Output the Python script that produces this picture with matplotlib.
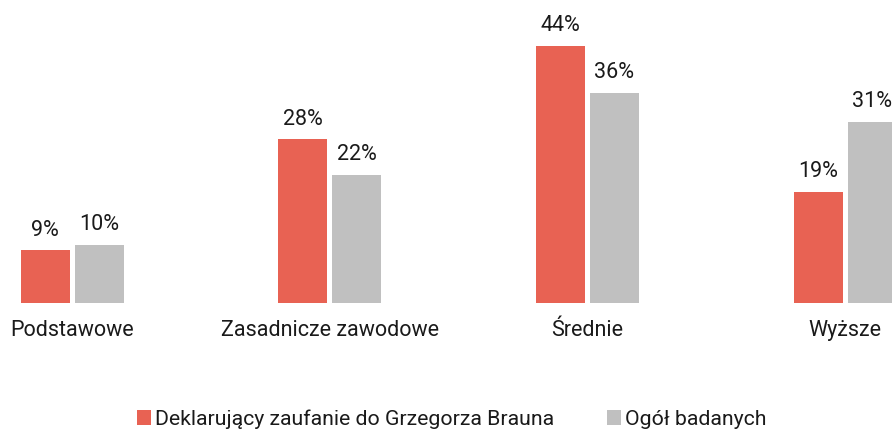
import matplotlib
matplotlib.use("Agg")
import matplotlib.pyplot as plt
import numpy as np
from matplotlib.patches import Patch

categories = ["Podstawowe", "Zasadnicze zawodowe", "Średnie", "Wyższe"]
braun = [9, 28, 44, 19]
ogol = [10, 22, 36, 31]
series_names = ["Deklarujący zaufanie do Grzegorza Brauna", "Ogół badanych"]
colors = ["#E86253", "#C0C0C0"]

plt.rcParams['font.family'] = ['Roboto', 'DejaVu Sans']

W, H = 892, 430
fig = plt.figure(figsize=(W / 100, H / 100), dpi=100)
base_px = 303
ax = fig.add_axes([0, (H - base_px) / H, 1, base_px / H])

px_per_unit = 257.67
x = np.arange(len(categories))
width = 49 / px_per_unit
off = 27 / px_per_unit
b1 = ax.bar(x - off, braun, width, color=colors[0], label=series_names[0])
b2 = ax.bar(x + off, ogol, width, color=colors[1], label=series_names[1])

ax.set_xlim(-72 / px_per_unit, (W - 72) / px_per_unit)
ax.set_ylim(0, base_px / 5.84)

fs = 15.5
for bars in (b1, b2):
    ax.bar_label(bars, labels=[f"{v}%" for v in bars.datavalues], padding=7,
                 fontsize=fs, color="#1a1a1a")

ax.set_xticks(x)
ax.set_xticklabels(categories, fontsize=fs, color="#1a1a1a")
ax.tick_params(axis='x', length=0, pad=12)
ax.set_yticks([])
for s in ax.spines.values():
    s.set_visible(False)

handles = [Patch(facecolor=colors[0]), Patch(facecolor=colors[1])]
fig.legend(handles, series_names, loc='lower center', bbox_to_anchor=(0.5065, -0.042),
           ncol=2, frameon=False, fontsize=15.3, handlelength=0.65, handleheight=0.65,
           handletextpad=0.2, columnspacing=2.5, labelcolor="#1a1a1a")

fig.savefig("out.png", dpi=100)
